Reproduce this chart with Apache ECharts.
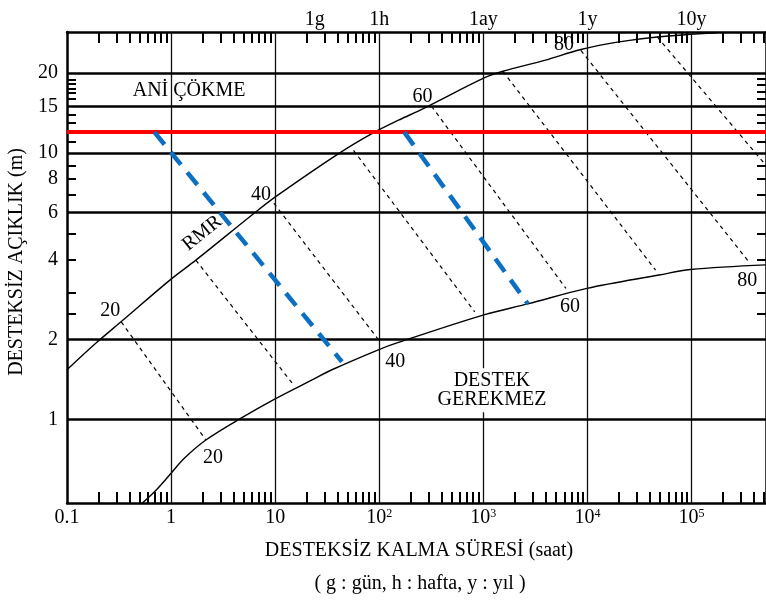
<!DOCTYPE html>
<html>
<head>
<meta charset="utf-8">
<script src="https://cdn.jsdelivr.net/npm/echarts@6/dist/echarts.min.js"></script>
<style>
html, body { margin: 0; padding: 0; background: #fff; }
#chart { width: 766px; height: 601px; }
</style>
</head>
<body>
<div id="chart"></div>
<script>
// Stand-up time (hours) vs. unsupported span (m), with RMR iso-lines

// axis ticks and labels
const hourTicks = [0.1, 1, 10, 100, 1000, 10000, 100000];
const hourTickText = ['0.1', '1', '10', '10{s|2}', '10{s|3}', '10{s|4}', '10{s|5}'];
const periodHours = [24, 100, 1000, 10000, 100000];
const periodText = ['1g', '1h', '1ay', '1y', '10y'];
const spanTicks = [1, 2, 4, 6, 8, 10, 15, 20];
const spanGrid = [1, 2, 6, 10, 15, 20];
const spanMinorLeft = [2.5, 3, 4, 5, 7, 8, 9, 11, 12, 13, 14, 16, 16.8, 17.5, 18.2, 18.9];
const spanMinorRight = [2.5, 3, 4, 5, 7, 8, 9, 11, 12, 13, 14, 16, 17, 18, 19];

// upper boundary (immediate collapse)
const upperHours = [0.1, 0.19, 0.33, 1.0, 1.73, 6.5, 10.2, 40.7, 85, 153, 265, 1030, 1540, 3870, 8660, 19400, 46900, 176000];
const upperSpan  = [1.54, 1.94, 2.33, 3.37, 3.97, 6.02, 6.89, 9.97, 11.85, 13.3, 14.7, 19.2, 20.3, 22.3, 24.5, 26.1, 27.3, 28.3];

// lower boundary (no support required)
const lowerHours = [0.53, 0.72, 1.0, 1.34, 2.16, 4.84, 10.1, 22.6, 35.1, 98, 153, 1030, 2680, 9880, 48700, 97700, 520000];
const lowerSpan  = [0.487, 0.545, 0.63, 0.717, 0.839, 1.02, 1.2, 1.41, 1.54, 1.83, 1.95, 2.48, 2.72, 3.11, 3.49, 3.66, 3.81];

// RMR iso-lines: start on the upper boundary, end on the lower boundary
const rmrValues     = [20, 30, 40, 50, 60, 70, 80, 90];
const rmrStartHours = [0.332, 1.73, 9.72, 56.6, 318, 1540, 8660, 46900];
const rmrStartSpan  = [2.33, 3.97, 6.49, 10.25, 15.0, 20.3, 24.3, 27.3];
const rmrEndHours   = [2.16, 14.6, 102, 827, 6220, 45200, 366000, 520000];
const rmrEndSpan    = [0.839, 1.37, 1.96, 2.54, 3.11, 3.64, 3.86, 9.0];
const rmrLabelled   = [20, 40, 60, 80];

// span limit and the two case lines
const limitSpan = 12;
const caseStartHours = [0.691, 174];
const caseStartSpan  = [12, 12];
const caseEndHours   = [43.8, 2680];
const caseEndSpan    = [1.65, 2.72];

// region notes
const noteText  = ['ANİ ÇÖKME', 'DESTEK\nGEREKMEZ', 'RMR'];
const noteHours = [1.49, 1211, 1.99];
const noteSpan  = [17.2, 1.29, 5.01];

// label offsets (px) for the RMR numbers at each end
const rmrLabelOffset = {
  20: [[-11, -11], [7, 18]],
  40: [[-13, -9], [15, 20]],
  60: [[-9, -10], [4, 18]],
  80: [[-17, -6], [-3, 17]]
};
const noteRotate = [0, 0, 39];
const noteBackground = [null, '#fff', null];

const FONT = "'Liberation Serif', 'Times New Roman', serif";
const FS = 20;
const INK = '#000';

function hourMinorTicks() {
  const out = [];
  for (let e = -1; e <= 5; e++) {
    for (let m = 2; m <= 9; m++) out.push(m * Math.pow(10, e));
  }
  return out;
}
const hourMinor = hourMinorTicks();

function nearestIndex(list, v) {
  let best = 0, bd = Infinity;
  list.forEach((t, i) => {
    const d = Math.abs(Math.log10(t) - Math.log10(v));
    if (d < bd) { bd = d; best = i; }
  });
  return best;
}

const X_MIN = 0.1, X_MAX = 5.2e5, Y_MIN = 0.487, Y_MAX = 28.5;

function xAxisBase(pos) {
  return {
    type: 'log', logBase: 10, min: X_MIN, max: X_MAX, position: pos,
    axisLine: { show: true, onZero: false, lineStyle: { color: '#000', width: 2.5 } },
    axisTick: { show: true, inside: true, length: 11, customValues: hourMinor,
                lineStyle: { color: '#000', width: 2 } },
    splitLine: { show: false },
    minorTick: { show: false }
  };
}
function yAxisBase(pos, minor) {
  return {
    type: 'log', logBase: 10, min: Y_MIN, max: Y_MAX, position: pos,
    axisLine: { show: true, onZero: false, lineStyle: { color: '#000', width: 2.5 } },
    axisTick: { show: true, inside: true, length: 9, customValues: minor,
                lineStyle: { color: '#000', width: 2 } },
    splitLine: { show: false },
    minorTick: { show: false }
  };
}

const xBottom = Object.assign(xAxisBase('bottom'), {
  axisLabel: {
    customValues: hourTicks, margin: 5, color: INK, fontFamily: FONT, fontSize: FS,
    formatter: v => hourTickText[nearestIndex(hourTicks, v)],
    rich: { s: { fontSize: 12, fontFamily: FONT, color: INK, verticalAlign: 'top', padding: [0, 0, 6, 0] } }
  }
});
const xTop = Object.assign(xAxisBase('top'), {
  axisLabel: {
    customValues: periodHours, margin: 2, color: INK, fontFamily: FONT, fontSize: FS,
    formatter: v => periodText[nearestIndex(periodHours, v)]
  }
});
const yLeft = Object.assign(yAxisBase('left', spanMinorLeft), {
  axisLabel: {
    customValues: spanTicks, margin: 9, color: INK, fontFamily: FONT, fontSize: FS,
    formatter: v => String(spanTicks[nearestIndex(spanTicks, v)])
  }
});
const yRight = Object.assign(yAxisBase('right', spanMinorRight), { axisLabel: { show: false } });

const pairs = (xs, ys) => xs.map((x, i) => [x, ys[i]]);

const series = [];

// grid lines
series.push({
  type: 'line', data: [], z: 1, silent: true,
  markLine: {
    silent: true, symbol: ['none', 'none'], label: { show: false }, animation: false,
    data: hourTicks.slice(1).map(h => ({ xAxis: h, lineStyle: { color: '#111', width: 1.3, type: 'solid' } }))
      .concat(spanGrid.map(s => ({ yAxis: s, lineStyle: { color: '#000', width: 2.5, type: 'solid' } })))
  }
});
// span limit
series.push({
  type: 'line', data: [], z: 2, silent: true,
  markLine: {
    silent: true, symbol: ['none', 'none'], label: { show: false }, animation: false,
    data: [{ yAxis: limitSpan, lineStyle: { color: '#ff0000', width: 4, type: 'solid' } }]
  }
});
// boundaries
[[upperHours, upperSpan], [lowerHours, lowerSpan]].forEach(([h, s]) => {
  series.push({
    type: 'line', data: pairs(h, s), smooth: 0.35, symbol: 'none', z: 4,
    lineStyle: { color: '#000', width: 1.4 }, silent: true
  });
});
// RMR iso-lines
rmrValues.forEach((v, i) => {
  series.push({
    type: 'line', symbol: 'none', z: 3, silent: true,
    data: [[rmrStartHours[i], rmrStartSpan[i]], [rmrEndHours[i], rmrEndSpan[i]]],
    lineStyle: { color: '#000', width: 1.2, type: [4, 4] }
  });
});
// case lines
caseStartHours.forEach((h, i) => {
  series.push({
    type: 'line', symbol: 'none', z: 5, silent: true,
    data: [[h, caseStartSpan[i]], [caseEndHours[i], caseEndSpan[i]]],
    lineStyle: { color: '#0b6fc4', width: 4.5, type: [16, 10] }
  });
});
// text: RMR numbers at both ends and region notes
const textData = [];
rmrValues.forEach((v, i) => {
  if (rmrLabelled.indexOf(v) < 0) return;
  const off = rmrLabelOffset[v];
  textData.push({ value: [rmrStartHours[i], rmrStartSpan[i]], name: String(v), label: { offset: off[0] } });
  textData.push({ value: [rmrEndHours[i], rmrEndSpan[i]], name: String(v), label: { offset: off[1] } });
});
noteText.forEach((t, i) => {
  const lab = { rotate: noteRotate[i], lineHeight: 19 };
  if (noteBackground[i]) { lab.backgroundColor = noteBackground[i]; lab.padding = [3, 2]; }
  textData.push({ value: [noteHours[i], noteSpan[i]], name: t, label: lab });
});
series.push({
  type: 'scatter', symbolSize: 0, z: 6, silent: true, data: textData,
  itemStyle: { opacity: 1 },
  label: { show: true, position: 'inside', formatter: '{b}', color: INK, opacity: 1,
           fontFamily: FONT, fontSize: FS, align: 'center', verticalAlign: 'middle' }
});

const chart = echarts.init(document.getElementById('chart'), null, { renderer: 'canvas' });
chart.setOption({
  animation: false,
  backgroundColor: '#fff',
  textStyle: { fontFamily: FONT },
  grid: { left: 67, top: 32, width: 702, height: 471, containLabel: false },
  xAxis: [xBottom, xTop],
  yAxis: [yLeft, yRight],
  series: series.map(s => Object.assign({ xAxisIndex: 0, yAxisIndex: 0 }, s)),
  graphic: [
    { type: 'text', x: 419, y: 551, silent: true,
      style: { text: 'DESTEKSİZ KALMA SÜRESİ (saat)', font: FS + 'px ' + FONT, fill: INK,
               textAlign: 'center', textVerticalAlign: 'middle' } },
    { type: 'text', x: 420, y: 584, silent: true,
      style: { text: '( g : gün, h : hafta, y : yıl )', font: FS + 'px ' + FONT, fill: INK,
               textAlign: 'center', textVerticalAlign: 'middle' } },
    { type: 'text', x: 17, y: 262, rotation: Math.PI / 2, silent: true,
      style: { text: 'DESTEKSİZ AÇIKLIK (m)', font: FS + 'px ' + FONT, fill: INK,
               textAlign: 'center', textVerticalAlign: 'middle' } }
  ]
});
</script>
</body>
</html>
